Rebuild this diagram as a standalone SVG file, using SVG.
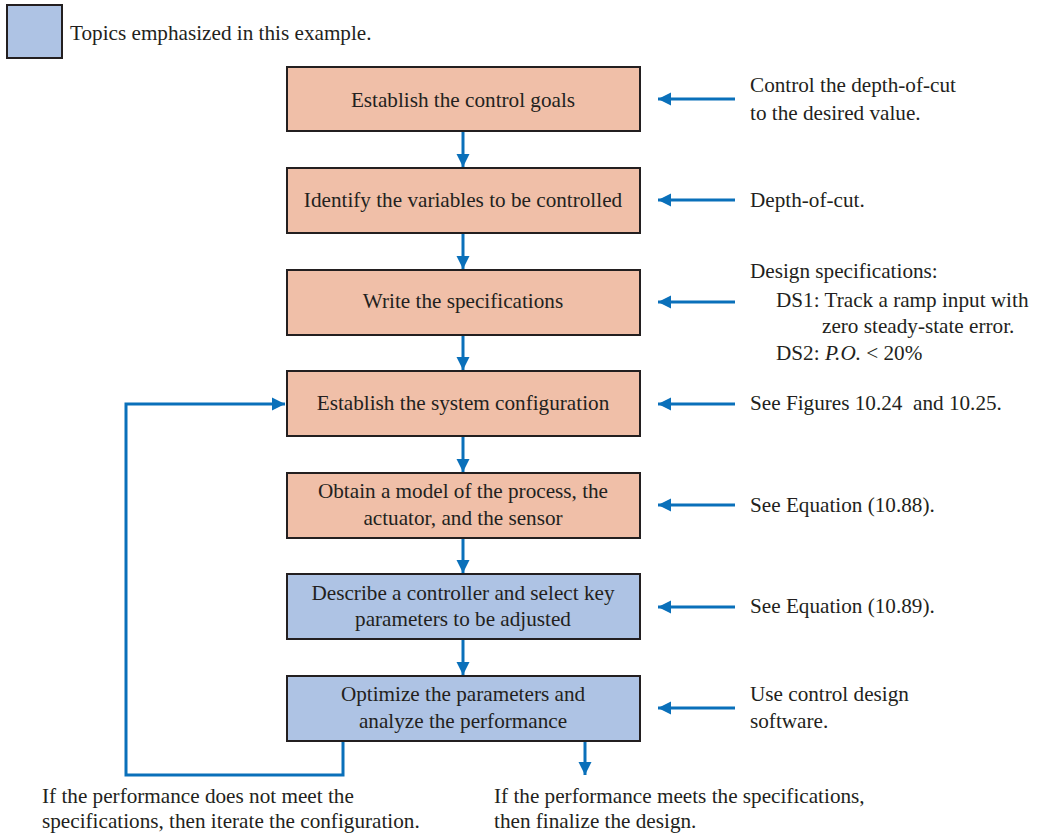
<svg xmlns="http://www.w3.org/2000/svg" width="1044" height="833" viewBox="0 0 1044 833">
<style>
.t{font-family:"Liberation Serif","Times New Roman",serif;font-size:21.2px;fill:#231F20}
.c{text-anchor:middle}
.bx{stroke:#231F20;stroke-width:2}
.o{fill:#F0BFA8}
.b{fill:#AEC3E4}
.ln{fill:none;stroke:#0A70BA;stroke-width:3}
</style>
<defs>
<marker id="ah" viewBox="0 0 10 10" refX="10" refY="5" markerWidth="4.4" markerHeight="4.4" orient="auto" markerUnits="strokeWidth">
<path d="M0,0 L10,5 L0,10 z" fill="#0A70BA"/>
</marker>
</defs>
<g id="legend">
<rect x="7" y="5" width="55" height="53" class="bx b"/>
<text x="70" y="40" class="t">Topics emphasized in this example.</text>
</g>
<g id="n1"><rect x="287" y="67" width="353" height="64" class="bx o"/><text x="463" y="107" class="t c">Establish the control goals</text></g>
<g id="n2"><rect x="287" y="168" width="353" height="65" class="bx o"/><text x="463" y="207" class="t c">Identify the variables to be controlled</text></g>
<g id="n3"><rect x="287" y="270" width="353" height="65" class="bx o"/><text x="463" y="308" class="t c">Write the specifications</text></g>
<g id="n4"><rect x="287" y="371" width="353" height="65" class="bx o"/><text x="463" y="410" class="t c">Establish the system configuration</text></g>
<g id="n5"><rect x="287" y="473" width="353" height="65" class="bx o"/><text x="463" y="498" class="t c">Obtain a model of the process, the</text><text x="463" y="525" class="t c">actuator, and the sensor</text></g>
<g id="n6"><rect x="287" y="574" width="353" height="65" class="bx b"/><text x="463" y="600" class="t c">Describe a controller and select key</text><text x="463" y="626" class="t c">parameters to be adjusted</text></g>
<g id="n7"><rect x="287" y="676" width="353" height="65" class="bx b"/><text x="463" y="701" class="t c">Optimize the parameters and</text><text x="463" y="728" class="t c">analyze the performance</text></g>
<g id="notes">
<text x="750" y="92" class="t">Control the depth-of-cut</text>
<text x="750" y="120" class="t">to the desired value.</text>
<text x="750" y="207" class="t">Depth-of-cut.</text>
<text x="750" y="278" class="t">Design specifications:</text>
<text x="776" y="307" class="t">DS1: Track a ramp input with</text>
<text x="822" y="333" class="t">zero steady-state error.</text>
<text x="776" y="360" class="t">DS2: <tspan font-style="italic">P.O.</tspan> &lt; 20%</text>
<text x="750" y="410" class="t">See Figures 10.24&#160; and 10.25.</text>
<text x="750" y="512" class="t">See Equation (10.88).</text>
<text x="750" y="613" class="t">See Equation (10.89).</text>
<text x="750" y="701" class="t">Use control design</text>
<text x="750" y="728" class="t">software.</text>
<text x="42" y="803" class="t">If the performance does not meet the</text>
<text x="42" y="828" class="t">specifications, then iterate the configuration.</text>
<text x="494" y="803" class="t">If the performance meets the specifications,</text>
<text x="494" y="828" class="t">then finalize the design.</text>
</g>
<g id="connectors">
<line x1="463" y1="132" x2="463" y2="167" class="ln" marker-end="url(#ah)"/>
<line x1="463" y1="234" x2="463" y2="269" class="ln" marker-end="url(#ah)"/>
<line x1="463" y1="336" x2="463" y2="370" class="ln" marker-end="url(#ah)"/>
<line x1="463" y1="437" x2="463" y2="472" class="ln" marker-end="url(#ah)"/>
<line x1="463" y1="539" x2="463" y2="573" class="ln" marker-end="url(#ah)"/>
<line x1="463" y1="640" x2="463" y2="675" class="ln" marker-end="url(#ah)"/>
<line x1="735" y1="99" x2="658" y2="99" class="ln" marker-end="url(#ah)"/>
<line x1="735" y1="200" x2="658" y2="200" class="ln" marker-end="url(#ah)"/>
<line x1="735" y1="302" x2="658" y2="302" class="ln" marker-end="url(#ah)"/>
<line x1="735" y1="404" x2="658" y2="404" class="ln" marker-end="url(#ah)"/>
<line x1="735" y1="505" x2="658" y2="505" class="ln" marker-end="url(#ah)"/>
<line x1="735" y1="607" x2="658" y2="607" class="ln" marker-end="url(#ah)"/>
<line x1="735" y1="708" x2="658" y2="708" class="ln" marker-end="url(#ah)"/>
<polyline points="343,742 343,775 126,775 126,404 285,404" class="ln" marker-end="url(#ah)"/>
<line x1="585" y1="742" x2="585" y2="775" class="ln" marker-end="url(#ah)"/>
</g>
</svg>
